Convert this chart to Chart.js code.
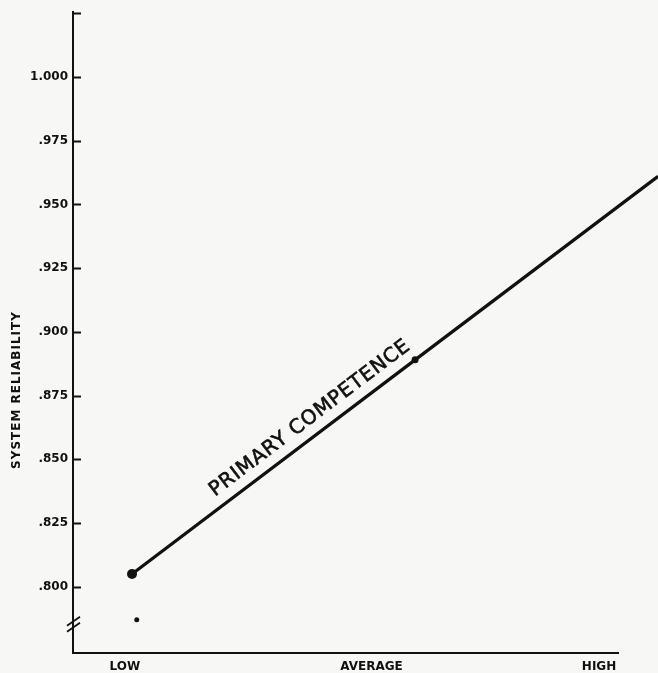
<!DOCTYPE html>
<html>
<head>
<meta charset="utf-8">
<script src="https://cdn.jsdelivr.net/npm/chart.js@4"></script>
<style>
  body { margin: 0; background: #f7f7f5; }
  canvas { display: block; }
</style>
</head>
<body>
<canvas id="reliability" width="658" height="673"></canvas>
<script>
// competence levels on the x axis
const levelLabels = ['LOW', 'AVERAGE', 'HIGH']
const levelPositions = [0, 1.04, 2]

// y axis ticks (top one has no label)
const reliabilityTicks = [0.800, 0.825, 0.850, 0.875, 0.900, 0.925, 0.950, 0.975, 1.000, 1.025]
const reliabilityLabels = ['.800', '.825', '.850', '.875', '.900', '.925', '.950', '.975', '1.000', '']

// primary competence line
const competenceX = [0.03, 1.224, 2.249]
const competenceY = [0.805, 0.889, 0.961]

// lone dot below the .800 line
const strayX = [0.05]
const strayY = [0.787]

const breakValue = 0.7855
const annotationText = 'PRIMARY COMPETENCE'
const annotationX = 0.781
const annotationY = 0.8661

const INK = '#111'

const extras = {
    id: 'extras',
    afterDraw(chart) {
        const ctx = chart.ctx
        const x = chart.scales.x
        const y = chart.scales.y
        const axisX = chart.chartArea.left

        ctx.save()
        ctx.strokeStyle = INK
        ctx.fillStyle = INK

        // ticks pointing into the plot
        ctx.lineWidth = 2
        reliabilityTicks.forEach(v => {
            const py = Math.round(y.getPixelForValue(v)) + 0.5
            ctx.beginPath()
            ctx.moveTo(axisX, py)
            ctx.lineTo(axisX + 8, py)
            ctx.stroke()
        })

        // axis break
        const by = y.getPixelForValue(breakValue)
        ctx.lineWidth = 1.8
        ;[-3, 3].forEach(off => {
            ctx.beginPath()
            ctx.moveTo(axisX - 6, by + off + 5)
            ctx.lineTo(axisX + 7, by + off - 4)
            ctx.stroke()
        })

        // y title
        ctx.save()
        ctx.translate(17, 390)
        ctx.rotate(-Math.PI / 2)
        ctx.font = 'bold 12px "DejaVu Sans"'
        ctx.letterSpacing = '1px'
        ctx.textAlign = 'center'
        ctx.textBaseline = 'middle'
        ctx.fillText('SYSTEM RELIABILITY', 0, 0)
        ctx.restore()

        // label along the line
        const p1x = x.getPixelForValue(competenceX[0]), p1y = y.getPixelForValue(competenceY[0])
        const p2x = x.getPixelForValue(competenceX[1]), p2y = y.getPixelForValue(competenceY[1])
        const angle = Math.atan2(p2y - p1y, p2x - p1x)
        ctx.save()
        ctx.translate(x.getPixelForValue(annotationX), y.getPixelForValue(annotationY))
        ctx.rotate(angle)
        ctx.font = '20px "DejaVu Sans"'
        ctx.letterSpacing = '0.8px'
        ctx.textAlign = 'center'
        ctx.textBaseline = 'middle'
        ctx.lineWidth = 0.6
        ctx.fillText(annotationText, 0, 0)
        ctx.strokeText(annotationText, 0, 0)
        ctx.restore()

        ctx.restore()
    }
}

new Chart(document.getElementById('reliability'), {
    type: 'scatter',
    data: {
        datasets: [{
            label: 'Primary competence',
            data: competenceX.map((v, i) => ({x: v, y: competenceY[i]})),
            showLine: true,
            borderColor: INK,
            backgroundColor: INK,
            borderWidth: 3.2,
            pointRadius: [5, 3.5, 0],
            pointBorderWidth: 0,
            clip: false
        }, {
            label: 'Stray',
            data: strayX.map((v, i) => ({x: v, y: strayY[i]})),
            backgroundColor: INK,
            borderColor: INK,
            pointRadius: 2.5,
            pointBorderWidth: 0
        }]
    },
    options: {
        responsive: false,
        animation: false,
        devicePixelRatio: 1,
        layout: {padding: {top: 10, right: 40, left: 0, bottom: 0}},
        plugins: {legend: {display: false}, tooltip: {enabled: false}},
        scales: {
            x: {
                type: 'linear',
                min: -0.219,
                max: 2.08,
                afterBuildTicks: s => { s.ticks = levelPositions.map(v => ({value: v})) },
                afterFit: s => { s.height = 20 },
                grid: {display: false, drawTicks: false},
                border: {display: true, color: INK, width: 2},
                ticks: {
                    autoSkip: false,
                    maxRotation: 0,
                    padding: 7,
                    color: INK,
                    font: {family: 'DejaVu Sans', size: 12, weight: 'bold'},
                    callback: (v, i) => levelLabels[i]
                }
            },
            y: {
                min: 0.774,
                max: 1.0254,
                afterBuildTicks: s => { s.ticks = reliabilityTicks.map(v => ({value: v})) },
                afterFit: s => { s.width = 73 },
                grid: {display: false, drawTicks: false},
                border: {display: true, color: INK, width: 2},
                ticks: {
                    autoSkip: false,
                    padding: 5,
                    color: INK,
                    font: {family: 'DejaVu Sans', size: 12, weight: 'bold'},
                    callback: (v, i) => reliabilityLabels[i]
                }
            }
        }
    },
    plugins: [extras]
})
</script>
</body>
</html>
